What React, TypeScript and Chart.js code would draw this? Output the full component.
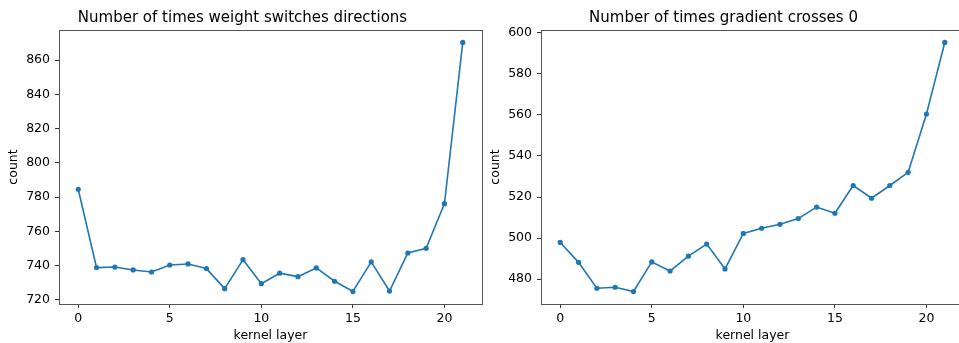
import React, { useEffect, useRef } from "react";
import { Chart, registerables } from "chart.js";

Chart.register(...registerables);

const layers = [0, 1, 2, 3, 4, 5, 6, 7, 8, 9, 10, 11, 12, 13, 14, 15, 16, 17, 18, 19, 20, 21];
const weightSwitches = [
  784.6, 738.9, 739.2, 737.5, 736.3, 740.4, 741.0, 738.3, 726.6, 743.5, 729.5,
  735.6, 733.6, 738.7, 730.9, 724.9, 742.2, 725.2, 747.4, 750.1, 776.2, 870.3,
];
const gradientCrossings = [
  497.9, 488.2, 475.6, 476.1, 474.0, 488.4, 484.0, 491.2, 497.1, 485.0, 502.3,
  504.8, 506.7, 509.5, 515.1, 512.1, 525.6, 519.4, 525.6, 532.0, 560.4, 595.2,
];
const xTicks = [0, 5, 10, 15, 20];
const weightTicks = [720, 740, 760, 780, 800, 820, 840, 860];
const gradientTicks = [480, 500, 520, 540, 560, 580, 600];

const FONT = "'DejaVu Sans', 'Liberation Sans', sans-serif";
const LINE = "#1f77b4";

const framePlugin = {
  id: "frame",
  afterDraw(chart: any) {
    const { ctx, chartArea: a } = chart;
    ctx.save();
    ctx.strokeStyle = "#555";
    ctx.lineWidth = 1;
    ctx.strokeRect(
      Math.round(a.left) + 0.5,
      Math.round(a.top) + 0.5,
      Math.round(a.right - a.left),
      Math.round(a.bottom - a.top)
    );
    ctx.restore();
  },
};

function makeConfig(
  values: number[],
  yTicks: number[],
  title: string,
  yAxisWidth: number,
  yTitlePad: number
): any {
  const lo = Math.min(...values);
  const hi = Math.max(...values);
  const m = (hi - lo) * 0.05;
  const tickFont = { family: FONT, size: 12.5 };
  const gridOpts = {
    drawOnChartArea: false,
    drawTicks: true,
    tickLength: 4,
    tickColor: "#333",
    tickWidth: 1,
  };
  return {
    type: "line",
    data: {
      datasets: [
        {
          data: layers.map((x, i) => ({ x, y: values[i] })),
          borderColor: LINE,
          backgroundColor: LINE,
          borderWidth: 1.6,
          pointRadius: 2.6,
          pointBorderWidth: 0,
          pointBackgroundColor: LINE,
          tension: 0,
        },
      ],
    },
    options: {
      responsive: false,
      animation: false,
      layout: { padding: { left: 0, right: 1, top: 0, bottom: 0 } },
      plugins: {
        legend: { display: false },
        tooltip: { enabled: false },
        title: {
          display: true,
          text: title,
          color: "#000",
          font: { family: FONT, size: 15, weight: "normal", lineHeight: 1.2 },
          padding: { top: 8.7, bottom: 3.3 },
        },
      },
      scales: {
        x: {
          type: "linear",
          min: -1.05,
          max: 22.05,
          afterBuildTicks: (s: any) => {
            s.ticks = xTicks.map((v) => ({ value: v }));
          },
          afterFit: (s: any) => {
            s.height = 39;
          },
          grid: gridOpts,
          border: { display: false },
          ticks: { font: tickFont, color: "#000", padding: 3, maxRotation: 0 },
          title: {
            display: true,
            text: "kernel layer",
            color: "#000",
            font: { family: FONT, size: 12.5, lineHeight: 1.2 },
            padding: { top: 0, bottom: 0 },
          },
        },
        y: {
          type: "linear",
          min: lo - m,
          max: hi + m,
          afterBuildTicks: (s: any) => {
            s.ticks = yTicks.map((v) => ({ value: v }));
          },
          afterFit: (s: any) => {
            s.width = yAxisWidth;
          },
          grid: gridOpts,
          border: { display: false },
          ticks: { font: tickFont, color: "#000", padding: 5 },
          title: {
            display: true,
            text: "count",
            color: "#000",
            font: { family: FONT, size: 12.5, lineHeight: 1.2 },
            padding: { top: yTitlePad, bottom: 0 },
          },
        },
      },
    },
    plugins: [framePlugin],
  };
}

function ChartCanvas(props: {
  left: number;
  width: number;
  values: number[];
  yTicks: number[];
  title: string;
  yAxisWidth: number;
  yTitlePad: number;
}) {
  const ref = useRef<HTMLCanvasElement | null>(null);
  useEffect(() => {
    if (!ref.current) return;
    const chart = new Chart(
      ref.current,
      makeConfig(props.values, props.yTicks, props.title, props.yAxisWidth, props.yTitlePad)
    );
    return () => chart.destroy();
  }, []);
  return (
    <canvas
      ref={ref}
      width={props.width}
      height={343}
      style={{
        position: "absolute",
        left: props.left,
        top: 0,
        width: props.width,
        height: 343,
        display: "block",
      }}
    />
  );
}

export default function App() {
  return (
    <div
      style={{
        position: "fixed",
        left: 0,
        top: 0,
        width: 959,
        height: 343,
        overflow: "hidden",
        background: "#fff",
      }}
    >
      <ChartCanvas
        left={0}
        width={486}
        values={weightSwitches}
        yTicks={weightTicks}
        title="Number of times weight switches directions"
        yAxisWidth={59}
        yTitlePad={6.6}
      />
      <ChartCanvas
        left={480}
        width={488}
        values={gradientCrossings}
        yTicks={gradientTicks}
        title="Number of times gradient crosses 0"
        yAxisWidth={61}
        yTitlePad={8.3}
      />
    </div>
  );
}
